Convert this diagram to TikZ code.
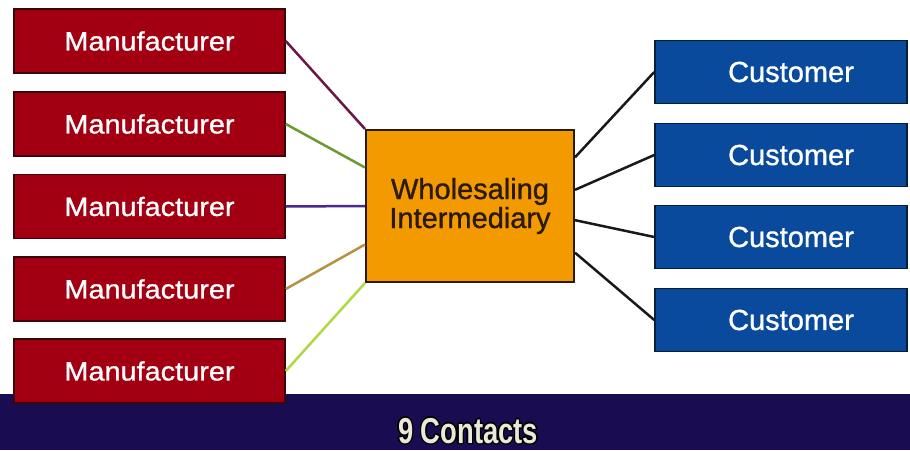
\documentclass[tikz,border=0pt]{standalone}
\usepackage{fontspec}
\setmainfont[FakeBold=1]{Liberation Sans}
\newfontfamily\mfont[FakeStretch=1.09,FakeBold=1]{Liberation Sans}
\newfontfamily\cfont[FakeStretch=0.76]{Liberation Sans Bold}
\usetikzlibrary{calc}
\definecolor{mred}{HTML}{A20012}
\definecolor{mredb}{HTML}{3A0808}
\definecolor{cblue}{HTML}{0A4A9C}
\definecolor{cblueb}{HTML}{0A1E3A}
\definecolor{worange}{HTML}{F29A00}
\definecolor{worangeb}{HTML}{2A1A08}
\definecolor{barblue}{HTML}{1A0C50}
\definecolor{lone}{HTML}{6A1848}
\definecolor{ltwo}{HTML}{6A9A30}
\definecolor{lthree}{HTML}{4A2A90}
\definecolor{lfour}{HTML}{B89040}
\definecolor{lfive}{HTML}{B0D840}
\definecolor{ccream}{HTML}{ECE8D8}
\tikzset{
  mbox/.style={draw=mredb, line width=1.5pt, fill=mred, minimum width=271pt, minimum height=64pt, inner sep=0pt, text=white, font=\mfont\fontsize{26.5}{30}\selectfont},
  cbox/.style={draw=cblueb, line width=1.5pt, fill=cblue, minimum width=252pt, minimum height=63pt, inner sep=0pt, text=white, font=\fontsize{29}{33}\selectfont},
  wbox/.style={draw=worangeb, line width=2pt, fill=worange, minimum width=208pt, minimum height=152pt, inner sep=0pt, text=worangeb, align=center, font=\fontsize{29}{31}\selectfont},
  conn/.style={line width=2.5pt},
  ctxt/.style={font=\cfont\fontsize{36}{40}\selectfont, inner sep=0pt}
}
\begin{document}
\begin{tikzpicture}[x=1pt,y=-1pt]
\useasboundingbox (0,0) rectangle (910,450);
\fill[white] (0,0) rectangle (910,450);
\fill[barblue] (0,394) rectangle (910,450);
% title with outline
\foreach \dx/\dy in {-1.4/0,1.4/0,0/-1.4,0/1.4,-1/-1,1/1,-1/1,1/-1}{
  \node[ctxt, text=black] at ($(468,431)+(\dx,\dy)$) {9 Contacts};
}
\node[ctxt, text=ccream] (title) at (468,431) {9 Contacts};
% nodes
\node[mbox] (m1) at (149.5,41) {Manufacturer};
\node[mbox] (m2) at (149.5,124) {Manufacturer};
\node[mbox] (m3) at (149.5,206.5) {Manufacturer};
\node[mbox] (m4) at (149.5,289) {Manufacturer};
\node[mbox] (m5) at (149.5,371) {Manufacturer};
\node[wbox] (w) at (470,206) {\raisebox{-2pt}{Wholesaling}\\Intermediary};
\node[cbox] (c1) at (781,72) {\hspace*{20pt}Customer};
\node[cbox] (c2) at (781,155) {\hspace*{20pt}Customer};
\node[cbox] (c3) at (781,237) {\hspace*{20pt}Customer};
\node[cbox] (c4) at (781,320) {\hspace*{20pt}Customer};
% connectors
\draw[conn, lone] (m1.east) -- (w.north west);
\draw[conn, ltwo] (m2.east) -- ($(w.north west)!0.25!(w.south west)$);
\draw[conn, lthree] (m3.east) -- (w.west);
\draw[conn, lfour] (m4.east) -- ($(w.north west)!0.75!(w.south west)$);
\draw[conn, lfive] (m5.east) -- (w.south west);
\draw[conn, black!90] ($(w.north east)!0.184!(w.south east)$) -- (c1.west);
\draw[conn, black!90] ($(w.north east)!0.395!(w.south east)$) -- (c2.west);
\draw[conn, black!90] ($(w.north east)!0.592!(w.south east)$) -- (c3.west);
\draw[conn, black!90] ($(w.north east)!0.803!(w.south east)$) -- (c4.west);
\end{tikzpicture}
\end{document}
